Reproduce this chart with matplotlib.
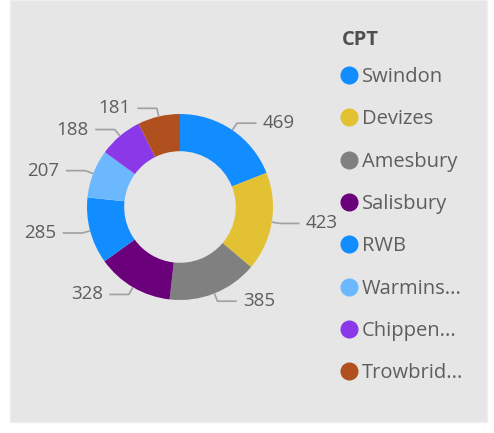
import numpy as np
import matplotlib.pyplot as plt
from matplotlib.lines import Line2D
from matplotlib.patches import Rectangle

# data
categories = ["Swindon", "Devizes", "Amesbury", "Salisbury", "RWB",
              "Warmins...", "Chippen...", "Trowbrid..."]
values = [469, 423, 385, 328, 285, 207, 188, 181]
colors = ["#118DFF", "#E2C132", "#808080", "#6B007B", "#118DFF",
          "#6CB8FF", "#8A38E8", "#B0501E"]

plt.rcParams['font.family'] = ['Open Sans', 'DejaVu Sans']
TXT = "#605E5C"

W, H = 494, 433
fig = plt.figure(figsize=(W / 100, H / 100), dpi=100)
fig.patch.set_facecolor("white")

# grey card behind everything
fig.patches.append(Rectangle((10 / W, 11 / H), 477 / W, 422 / H,
                             transform=fig.transFigure, facecolor="#E6E6E6",
                             edgecolor="#EFEFEF", lw=1, zorder=-5))

# donut: centre (180, 207) px, outer radius 93 px
R = 93
cx, cy = 180, H - 207
side = 360
ax = fig.add_axes([(cx - side / 2) / W, (cy - side / 2) / H, side / W, side / H])
ax.patch.set_alpha(0)

wedges, _ = ax.pie(values, colors=colors, startangle=90, counterclock=False,
                   wedgeprops=dict(width=0.4, linewidth=0))
L = side / 2 / R
ax.set_xlim(-L, L)
ax.set_ylim(-L, L)
ax.axis("off")

# leader lines + value labels
for w, v in zip(wedges, values):
    ang = np.deg2rad((w.theta1 + w.theta2) / 2)
    c, s = np.cos(ang), np.sin(ang)
    p0 = (1.01 * c, 1.01 * s)
    p1 = (1.09 * c, 1.09 * s)
    sgn = 1 if c >= 0 else -1
    p2 = (p1[0] + sgn * 0.2, p1[1])
    ax.plot([p0[0], p1[0], p2[0]], [p0[1], p1[1], p2[1]],
            color="#A0A0A0", lw=1.2, clip_on=False)
    ax.text(p2[0] + sgn * 0.08, p2[1], str(v), fontsize=13.5, color=TXT,
            ha="left" if sgn > 0 else "right", va="center")

# legend (title drawn separately so its gap can be matched)
fig.text(342 / W, 1 - 40 / H, "CPT", fontsize=14.5, fontweight="bold",
         color="#505050", ha="left", va="center")
handles = [Line2D([], [], marker="o", ls="", markersize=12,
                  markerfacecolor=col, markeredgecolor=col) for col in colors]
leg = fig.legend(handles, categories, loc="upper left",
                 bbox_to_anchor=(343 / W, 1 - 67 / H), frameon=False,
                 fontsize=14.5, labelspacing=1.11, handlelength=0.6,
                 handletextpad=0.35, borderaxespad=0, borderpad=0)
for t in leg.get_texts():
    t.set_color(TXT)

fig.savefig("out.png", dpi=100, facecolor=fig.get_facecolor())
